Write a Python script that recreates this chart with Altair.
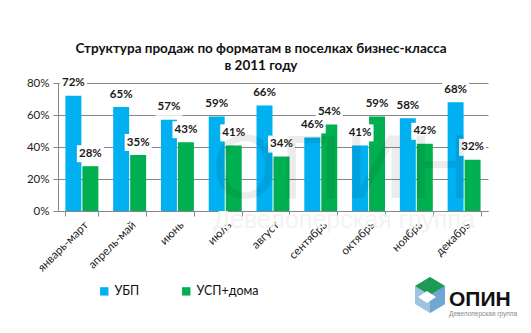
import altair as alt
import pandas as pd

months = ["январь-март", "апрель-май", "июнь", "июль", "август",
          "сентябрь", "октябрь", "ноябрь", "декабрь"]
series_names = ["УБП", "УСП+дома"]
ubp = [72, 65, 57, 59, 66, 46, 41, 58, 68]
usp = [28, 35, 43, 41, 34, 54, 59, 42, 32]
y_ticks = [0, 20, 40, 60, 80]
colors = ["#00B0F0", "#00B050"]

rows = []
for m, a, b in zip(months, ubp, usp):
    rows.append({"month": m, "series": series_names[0], "value": a, "label": f"{a}%"})
    rows.append({"month": m, "series": series_names[1], "value": b, "label": f"{b}%"})
df = pd.DataFrame(rows)

x_axis = alt.Axis(title=None, labelAngle=-45, tickBand="extent", tickSize=5,
                  tickColor="#868686", domainColor="#868686", labelFont="Lato",
                  labelFontSize=11.5, labelColor="#222222", labelPadding=3,
                  grid=False, labelOverlap=False)
y_axis = alt.Axis(title=None, values=y_ticks, labelExpr="datum.value + '%'",
                  grid=True, gridColor="#868686", domain=True, domainColor="#868686",
                  tickColor="#868686", tickSize=5, labelFont="Lato", labelFontSize=11.5,
                  labelColor="#222222", labelPadding=4, labelOverlap=False)
x_scale = alt.Scale(paddingInner=0.31, paddingOuter=0.155)
y_scale = alt.Scale(domain=[0, 80], nice=False)


def X():
    return alt.X("month:N", sort=months, scale=x_scale, axis=x_axis)


def XO():
    return alt.XOffset("series:N", sort=series_names, scale=alt.Scale(paddingInner=0.06))


def Y():
    return alt.Y("value:Q", scale=y_scale, axis=y_axis)


base = alt.Chart(df)

bars = base.mark_bar().encode(
    x=X(), xOffset=XO(), y=Y(),
    color=alt.Color("series:N", sort=series_names,
                    scale=alt.Scale(domain=series_names, range=colors),
                    legend=alt.Legend(title=None, orient="none", direction="horizontal",
                                      legendX=40, legendY=202, symbolType="square",
                                      symbolSize=70, symbolStrokeWidth=0, labelFont="Lato",
                                      labelFontSize=12.5, labelColor="#111111",
                                      columnPadding=40, labelOffset=4)),
)

boxes = base.mark_point(
    shape="M-13.5,-8.5L13.5,-8.5L13.5,8.5L-13.5,8.5Z", size=4, filled=True,
    color="white", opacity=1, strokeWidth=0, yOffset=-12.5
).encode(x=X(), xOffset=XO(), y=Y())

labels = base.mark_text(
    font="Lato", fontSize=11.5, fontWeight="bold", color="#1a1a1a",
    baseline="middle", dy=-12.5
).encode(x=X(), xOffset=XO(), y=Y(), text="label:N")

# watermark and logo (decoration)
wm = alt.Chart(pd.DataFrame({"t": ["ОПИН"]})).mark_text(
    font="DejaVu Sans", fontSize=86, color="black", opacity=0.07,
    align="center", baseline="alphabetic"
).encode(x=alt.value(284), y=alt.value(115), text="t:N")

wm2 = alt.Chart(pd.DataFrame({"t": ["Девелоперская группа"]})).mark_text(
    font="Liberation Sans", fontSize=25, color="#f3f3f3",
    align="center", baseline="middle"
).encode(x=alt.value(286), y=alt.value(137), text="t:N")

logo_hex = alt.Chart(pd.DataFrame({"k": [1]})).mark_point(
    shape="M0,-18L15,-9L15,9L0,18L-15,9L-15,-9Z", size=4, filled=True,
    color="#9cc3e0", opacity=1, strokeWidth=0
).encode(x=alt.value(372), y=alt.value(212))
logo_side = alt.Chart(pd.DataFrame({"k": [1]})).mark_point(
    shape="M0,0L15,-9L15,9L0,18Z", size=4, filled=True,
    color="#6fa6d2", opacity=1, strokeWidth=0
).encode(x=alt.value(372), y=alt.value(212))
logo_top = alt.Chart(pd.DataFrame({"k": [1]})).mark_point(
    shape="M0,-18L15,-9L0,0L-15,-9Z", size=4, filled=True,
    color="#1f9a55", opacity=1, strokeWidth=0
).encode(x=alt.value(372), y=alt.value(212))
logo_inner = alt.Chart(pd.DataFrame({"k": [1]})).mark_point(
    shape="M0,-6L9,0L0,6L-9,0Z", size=4, filled=True,
    color="white", opacity=1, strokeWidth=0
).encode(x=alt.value(369), y=alt.value(214))
logo_txt = alt.Chart(pd.DataFrame({"t": ["ОПИН"]})).mark_text(
    font="Liberation Sans", fontSize=21, fontWeight="bold", color="#111111",
    align="left", baseline="middle"
).encode(x=alt.value(391), y=alt.value(217), text="t:N")
logo_sub = alt.Chart(pd.DataFrame({"t": ["Девелоперская группа"]})).mark_text(
    font="Liberation Sans", fontSize=6.5, color="#888888",
    align="left", baseline="middle"
).encode(x=alt.value(391), y=alt.value(231), text="t:N")

chart = alt.layer(
    wm2, bars, boxes, labels, wm,
    logo_hex, logo_side, logo_top, logo_inner, logo_txt, logo_sub
).properties(
    width=430, height=128,
    title=alt.TitleParams(
        text=["Структура продаж по форматам в поселках бизнес-класса", "в 2011  году"],
        font="Lato", fontSize=13.5, fontWeight="bold", color="#111111",
        anchor="middle", dx=-12, dy=11, offset=13, lineHeight=17, frame="group"
    ),
    autosize=alt.AutoSizeParams(type="none"),
    padding={"left": 58, "top": 83, "right": 43, "bottom": 122},
).configure_view(stroke=None)

chart.save("out.html", embed_options={"renderer": "svg", "actions": False})
